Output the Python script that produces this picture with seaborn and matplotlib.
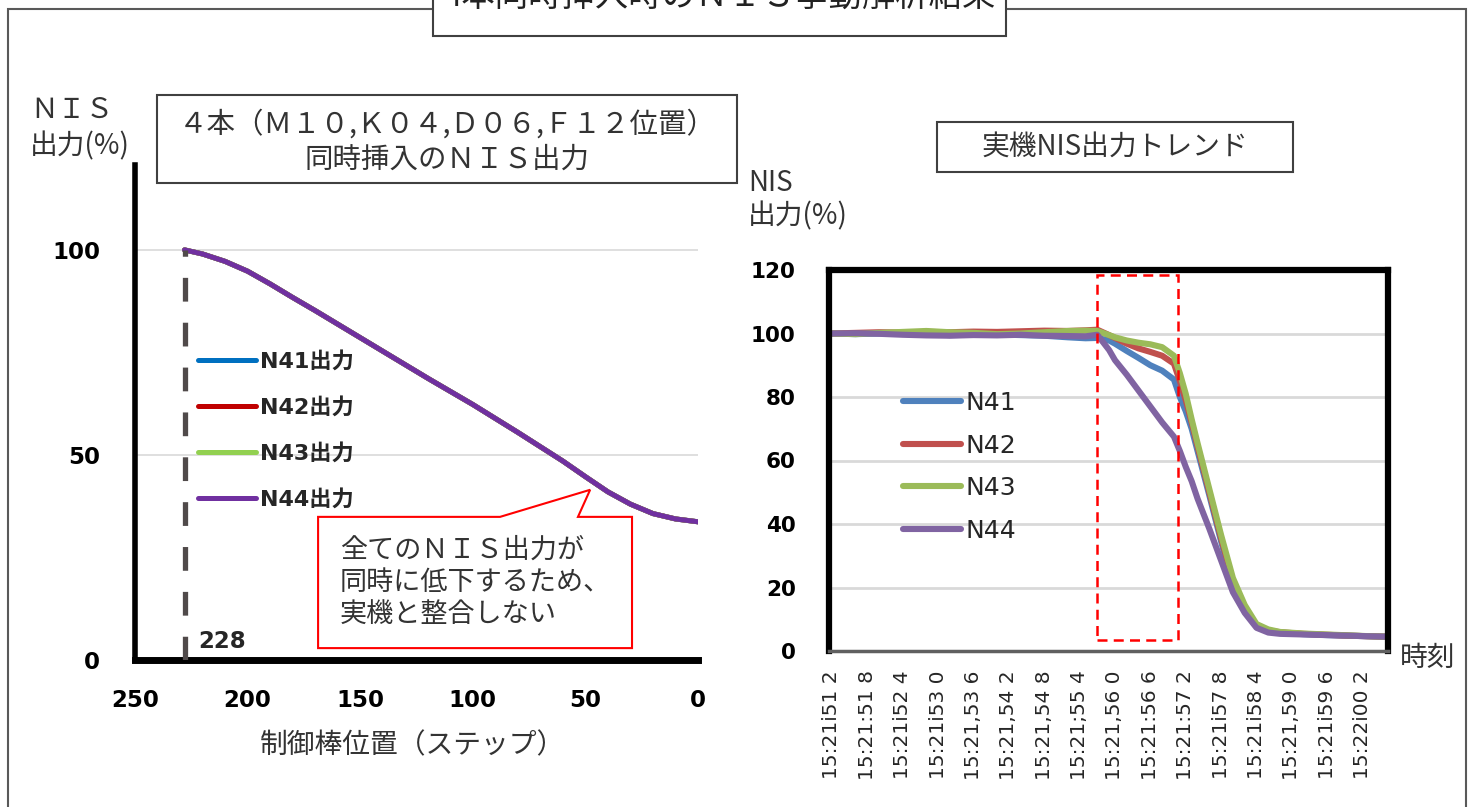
import numpy as np
import pandas as pd
import seaborn as sns
import matplotlib.pyplot as plt
from matplotlib.patches import Rectangle, Polygon
from matplotlib.font_manager import FontProperties

W, H = 1477, 807

# left chart: analysis, NIS output vs control rod position
rod_pos = [228, 220, 210, 200, 190, 180, 170, 160, 150, 140, 130, 120,
           110, 100, 90, 80, 70, 60, 50, 40, 30, 20, 10, 0]
n41_calc = [100, 99.0, 97.2, 94.8, 91.7, 88.4, 85.2, 81.9, 78.6, 75.3, 72.0, 68.7,
            65.5, 62.3, 58.9, 55.5, 52.0, 48.5, 44.7, 41.0, 38.0, 35.7, 34.4, 33.7]
n42_calc = [100, 99.0, 97.2, 94.8, 91.7, 88.4, 85.2, 81.9, 78.6, 75.3, 72.0, 68.7,
            65.5, 62.3, 58.9, 55.5, 52.0, 48.5, 44.7, 41.0, 38.0, 35.7, 34.4, 33.7]
n43_calc = [100, 99.0, 97.2, 94.8, 91.7, 88.4, 85.2, 81.9, 78.6, 75.3, 72.0, 68.7,
            65.5, 62.3, 58.9, 55.5, 52.0, 48.5, 44.7, 41.0, 38.0, 35.7, 34.4, 33.7]
n44_calc = [100, 99.0, 97.2, 94.8, 91.7, 88.4, 85.2, 81.9, 78.6, 75.3, 72.0, 68.7,
            65.5, 62.3, 58.9, 55.5, 52.0, 48.5, 44.7, 41.0, 38.0, 35.7, 34.4, 33.7]
calc_labels = ["N41出力", "N42出力", "N43出力", "N44出力"]
calc_colors = ["#0070C0", "#C00000", "#92D050", "#7030A0"]
start_pos = 228

# right chart: plant trend (seconds after 15:21)
times = [51.2, 51.6, 52.0, 52.4, 52.8, 53.2, 53.6, 54.0, 54.4, 54.8, 55.2, 55.5,
         55.7, 55.9, 56.0, 56.2, 56.4, 56.6, 56.8, 57.0, 57.1, 57.2, 57.3, 57.4,
         57.6, 57.8, 58.0, 58.2, 58.4, 58.6, 58.8, 59.2, 59.6, 60.0, 60.4, 60.6]
n41 = [100, 99.8, 100, 100.2, 99.8, 99.5, 99.6, 99.7, 99.5, 99.3, 98.8, 98.5,
       98.6, 97.8, 96.8, 94.5, 92.3, 90.0, 88.3, 85.5, 80, 75.5, 70, 63,
       49, 34.5, 20.5, 12.5, 7.8, 6.3, 5.8, 5.3, 5.0, 4.8, 4.6, 4.5]
n42 = [100, 100.2, 100.4, 100.3, 100.5, 100.4, 100.6, 100.5, 100.7, 100.9, 100.8, 101.0,
       101.2, 99.5, 98.6, 96.8, 95.3, 94.2, 93.0, 90.5, 85, 79, 72, 64.5,
       50, 35.5, 22, 13.5, 8, 6.5, 5.9, 5.4, 5.1, 4.8, 4.6, 4.5]
n43 = [100, 99.8, 100.2, 100.5, 100.8, 100.4, 100.2, 99.8, 100.0, 100.4, 100.8, 100.9,
       100.8, 99.5, 98.8, 97.8, 97.1, 96.6, 95.7, 93, 87.5, 81, 73, 65.5,
       51, 36.5, 23, 14.5, 8.5, 6.8, 6.0, 5.5, 5.2, 4.9, 4.6, 4.5]
n44 = [100, 100.1, 99.9, 99.6, 99.4, 99.3, 99.5, 99.4, 99.6, 99.3, 99.2, 99.1,
       99.6, 94.8, 91.6, 87, 82, 77, 72, 67.5, 63, 58, 53.5, 48,
       38.5, 28.5, 18.5, 12, 7.3, 5.8, 5.4, 5.2, 5.0, 4.8, 4.6, 4.5]
trend_labels = ["N41", "N42", "N43", "N44"]
trend_colors = ["#4F81BD", "#C0504D", "#9BBB59", "#8064A2"]
tick_times = [51.2, 51.8, 52.4, 53.0, 53.6, 54.2, 54.8, 55.4,
              56.0, 56.6, 57.2, 57.8, 58.4, 59.0, 59.6, 60.2]
tick_labels = ["15:21i51 2", "15:21:51 8", "15:21i52 4", "15:21i53 0",
               "15:21,53 6", "15:21,54 2", "15:21,54 8", "15:21;55 4",
               "15:21,56 0", "15:21:56 6", "15:21:57 2", "15:21i57 8",
               "15:21i58 4", "15:21,59 0", "15:21i59 6", "15:22i00 2"]
window = (55.70, 57.07)

sns.set_theme(style="white")
plt.rcParams['font.family'] = ['Noto Sans CJK JP', 'DejaVu Sans']

def fx(px):
    return px / W

def fy(py):
    return 1 - py / H

bold_num = FontProperties(family='DejaVu Sans', weight='bold', size=16.5)

fig = plt.figure(figsize=(W / 100, H / 100), dpi=100)

# outer frame and main title box (title is cut off by the top edge)
fig.add_artist(Rectangle((fx(8), fy(830)), fx(1466) - fx(8), fy(9) - fy(830),
                         transform=fig.transFigure, fill=False, ec='#595959', lw=1.5))
fig.add_artist(Rectangle((fx(433), fy(36)), fx(1006) - fx(433), fy(-10) - fy(36),
                         transform=fig.transFigure, fc='white', ec='#404040', lw=1.5, zorder=2))
fig.text(fx(720), fy(6), "4本同時挿入時のＮＩＳ挙動解析結果", ha='center', va='baseline',
         fontsize=24, color='#222222', zorder=3)

# ---- left chart
ax1 = fig.add_axes([fx(135), fy(660), fx(698) - fx(135), fy(165) - fy(660)])
ax1.set_facecolor('none')
for vals, lab, col in zip([n41_calc, n42_calc, n43_calc, n44_calc], calc_labels, calc_colors):
    sns.lineplot(x=rod_pos, y=vals, ax=ax1, color=col, lw=3.6, label=lab)
ax1.vlines(start_pos, 0, n41_calc[0], colors='#504a4a', lw=3.8, linestyles=(0, (4.5, 4)), zorder=5)
ax1.set_xlim(250, 0)
ax1.set_ylim(0, 120.7)
ax1.set_xticks([250, 200, 150, 100, 50, 0])
ax1.set_yticks([0, 50, 100])
ax1.tick_params(axis='x', length=0, pad=21)
ax1.tick_params(axis='y', length=0, pad=25)
for t in ax1.get_xticklabels() + ax1.get_yticklabels():
    t.set_fontproperties(bold_num)
    t.set_color('black')
ax1.yaxis.grid(True, color='#D9D9D9', lw=1.2)
ax1.set_axisbelow(True)
for s in ['top', 'right']:
    ax1.spines[s].set_visible(False)
ax1.spines['left'].set_color('black')
ax1.spines['left'].set_linewidth(4)
ax1.spines['bottom'].set_color('black')
ax1.spines['bottom'].set_linewidth(5)
ax1.set_xlabel("")
ax1.set_ylabel("")
ax1.text(222, 4.5, str(start_pos), fontproperties=bold_num, ha='left', va='center')

leg_font = FontProperties(family=['DejaVu Sans', 'Noto Sans CJK JP'], weight='bold', size=16)
h1, l1 = ax1.get_legend_handles_labels()
ax1.legend(h1, l1, loc='upper left', bbox_to_anchor=(fx(198), fy(351)), bbox_transform=fig.transFigure,
           frameon=False, prop=leg_font, handlelength=2.6, handletextpad=0.2, labelspacing=1.13,
           borderpad=0, borderaxespad=0)

# callout
call = Polygon([(168.7, 2.9), (29.3, 2.9), (29.3, 34.9), (53.3, 34.9), (47.9, 41.5),
                (87.9, 34.9), (168.7, 34.9)], closed=True, fc='white', ec='#FF0000', lw=1.5, zorder=3)
ax1.add_patch(call)
ax1.text(159, 18.8, "全てのＮＩＳ出力が\n同時に低下するため、\n実機と整合しない", ha='left', va='center',
         fontsize=19.5, color='#333333', linespacing=1.25, zorder=4)

fig.add_artist(Rectangle((fx(157), fy(183)), fx(737) - fx(157), fy(95) - fy(183),
                         transform=fig.transFigure, fc='white', ec='#404040', lw=1.5, zorder=2))
fig.text(fx(447), fy(125), "４本（Ｍ１０,Ｋ０４,Ｄ０６,Ｆ１２位置）", ha='center', va='center',
         fontsize=20.5, color='#333333', zorder=3)
fig.text(fx(447), fy(160), "同時挿入のＮＩＳ出力", ha='center', va='center', fontsize=20.5, color='#333333', zorder=3)
fig.text(fx(30), fy(128), "ＮＩＳ\n出力(%)", ha='left', va='center', fontsize=20, color='#333333',
         linespacing=1.25)
fig.text(fx(412), fy(745), "制御棒位置（ステップ）", ha='center', va='center', fontsize=20, color='#333333')

# ---- right chart
ax2 = fig.add_axes([fx(829), fy(651), fx(1388) - fx(829), fy(270) - fy(651)])
for vals, lab, col in zip([n41, n42, n43, n44], trend_labels, trend_colors):
    sns.lineplot(x=times, y=vals, ax=ax2, color=col, lw=4.4, label=lab)
ax2.add_patch(Rectangle((window[0], 3.5), window[1] - window[0], 118.3 - 3.5, fill=False,
                        ec='#FF0000', lw=1.8, ls=(0, (4, 2.5)), zorder=5))
ax2.set_xlim(51.15, 60.63)
ax2.set_ylim(0, 120)
ax2.set_yticks(range(0, 121, 20))
ax2.set_xticks(tick_times)
ax2.set_xticklabels(tick_labels, rotation=90, ha='center', va='top', fontsize=14.5, family='DejaVu Sans')
ax2.tick_params(axis='x', length=0, pad=14)
ax2.tick_params(axis='y', length=0, pad=24)
for t in ax2.get_yticklabels():
    t.set_fontproperties(FontProperties(family='DejaVu Sans', weight='bold', size=15.5))
    t.set_color('black')
ax2.yaxis.grid(True, color='#D9D9D9', lw=2)
ax2.set_axisbelow(True)
for s in ['top', 'left', 'right']:
    ax2.spines[s].set_color('black')
    ax2.spines[s].set_linewidth(4.5)
ax2.spines['bottom'].set_color('#606060')
ax2.spines['bottom'].set_linewidth(2.5)
ax2.set_xlabel("")
ax2.set_ylabel("")
h2, l2 = ax2.get_legend_handles_labels()
ax2.legend(h2, l2, loc='upper left', bbox_to_anchor=(fx(903), fy(391)), bbox_transform=fig.transFigure,
           frameon=False, prop=FontProperties(family='DejaVu Sans', size=18), handlelength=2.3,
           handletextpad=0.2, labelspacing=0.74, borderpad=0, borderaxespad=0)

fig.add_artist(Rectangle((fx(937), fy(172)), fx(1293) - fx(937), fy(122) - fy(172),
                         transform=fig.transFigure, fc='white', ec='#404040', lw=1.5, zorder=2))
fig.text(fx(1115), fy(147), "実機NIS出力トレンド", ha='center', va='center', fontsize=20, color='#333333', zorder=3)
fig.text(fx(748), fy(200), "NIS\n出力(%)", ha='left', va='center', fontsize=20, color='#333333', linespacing=1.15)
fig.text(fx(1400), fy(658), "時刻", ha='left', va='center', fontsize=20, color='#333333')

fig.savefig("out.png", dpi=100)
